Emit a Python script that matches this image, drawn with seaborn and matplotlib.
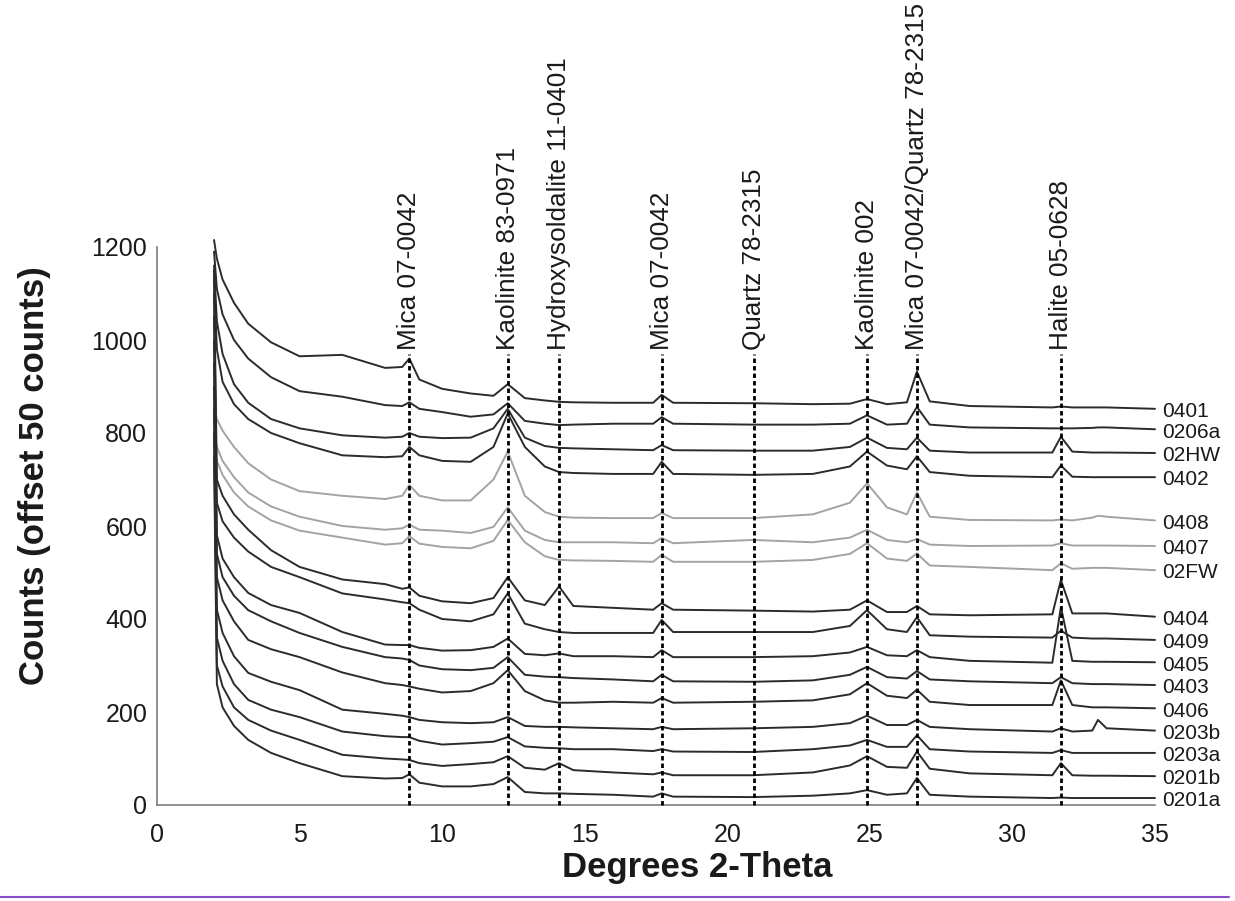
import matplotlib
matplotlib.use("Agg")
import matplotlib.pyplot as plt
import seaborn as sns
import pandas as pd
from matplotlib.lines import Line2D

# ---------------- data ----------------
THETA = [2.0, 2.1, 2.3, 2.7, 3.2, 4.0, 5.0, 6.5, 8.0, 8.6, 8.85, 9.2, 10.0, 11.0,
         11.8, 12.3, 12.9, 13.6, 14.1, 14.6, 16.0, 17.4, 17.7, 18.1, 20.9, 23.0,
         24.3, 24.9, 25.6, 26.3, 26.65, 27.1, 28.5, 31.4, 31.7, 32.1, 32.8, 33.0,
         33.3, 35.0]

s0401 = [1215, 1175, 1130, 1080, 1035, 995, 965, 968, 940, 942, 960, 915, 895, 885, 880, 905, 875, 870, 867, 866, 865, 865, 882, 865, 864, 862, 863, 873, 862, 866, 932, 868, 858, 855, 857, 855, 855, 855, 855, 852]
s0206a = [1190, 1110, 1055, 1000, 960, 920, 890, 878, 860, 858, 866, 852, 845, 835, 840, 864, 826, 820, 817, 818, 820, 820, 834, 820, 818, 818, 820, 838, 818, 820, 856, 818, 812, 810, 810, 810, 811, 812, 812, 808]
s02HW = [1160, 1040, 970, 905, 865, 830, 810, 795, 790, 792, 800, 792, 789, 790, 810, 852, 790, 772, 768, 767, 765, 763, 774, 763, 762, 762, 770, 790, 768, 765, 790, 762, 758, 758, 792, 760, 758, 758, 758, 757]
s0402 = [1130, 980, 910, 862, 830, 800, 778, 752, 748, 750, 770, 752, 740, 738, 770, 842, 770, 728, 716, 714, 712, 712, 738, 712, 710, 712, 728, 760, 730, 722, 750, 716, 708, 705, 730, 706, 705, 705, 705, 705]
s0408 = [855, 830, 805, 770, 735, 700, 675, 665, 658, 665, 688, 665, 655, 655, 700, 760, 665, 630, 620, 618, 617, 617, 628, 617, 617, 625, 650, 692, 640, 625, 672, 620, 613, 612, 614, 612, 618, 622, 620, 612]
s0407 = [800, 770, 740, 705, 672, 642, 620, 600, 592, 595, 603, 592, 590, 585, 598, 640, 590, 570, 565, 565, 565, 563, 574, 563, 570, 565, 575, 592, 570, 565, 572, 560, 557, 558, 563, 558, 558, 558, 558, 557]
s02FW = [770, 740, 710, 672, 642, 612, 590, 575, 560, 563, 578, 562, 555, 552, 568, 613, 565, 535, 527, 526, 525, 523, 538, 523, 523, 527, 540, 563, 530, 525, 541, 515, 512, 505, 520, 508, 510, 510, 510, 505]
s0404 = [1150, 700, 665, 625, 592, 548, 512, 485, 475, 465, 468, 450, 438, 434, 445, 490, 440, 430, 470, 428, 424, 420, 434, 420, 418, 416, 420, 440, 415, 415, 428, 410, 408, 410, 484, 412, 412, 412, 412, 405]
s0409 = [1100, 650, 610, 575, 545, 512, 490, 455, 442, 436, 434, 420, 400, 395, 410, 455, 390, 378, 372, 370, 370, 370, 398, 372, 372, 372, 385, 419, 378, 372, 404, 365, 362, 360, 375, 360, 358, 358, 358, 355]
s0405 = [1050, 580, 530, 490, 456, 430, 413, 372, 345, 344, 344, 338, 332, 333, 340, 358, 325, 322, 326, 320, 320, 318, 333, 318, 318, 320, 328, 340, 322, 320, 333, 318, 310, 306, 426, 310, 308, 308, 308, 307]
s0403 = [1000, 540, 490, 450, 419, 395, 370, 340, 318, 315, 312, 300, 292, 290, 295, 318, 280, 276, 275, 273, 270, 266, 280, 266, 265, 268, 280, 297, 275, 272, 288, 270, 266, 262, 275, 262, 260, 260, 260, 258]
s0406 = [950, 490, 440, 395, 355, 335, 318, 285, 262, 258, 255, 250, 242, 245, 262, 290, 245, 225, 220, 220, 222, 220, 230, 220, 222, 225, 238, 262, 235, 230, 248, 222, 215, 215, 268, 215, 210, 210, 210, 208]
s0203b = [900, 420, 370, 320, 284, 265, 247, 205, 196, 192, 189, 183, 178, 176, 178, 189, 170, 168, 168, 167, 165, 163, 168, 163, 165, 168, 176, 192, 172, 172, 183, 168, 163, 158, 165, 158, 160, 183, 165, 160]
s0203a = [850, 360, 310, 260, 226, 205, 189, 158, 148, 146, 146, 138, 130, 133, 136, 146, 126, 123, 122, 120, 120, 116, 120, 115, 114, 120, 128, 140, 125, 125, 150, 120, 115, 112, 118, 112, 112, 112, 112, 112]
s0201b = [800, 300, 255, 210, 183, 160, 140, 108, 100, 98, 97, 90, 84, 88, 92, 105, 80, 76, 90, 75, 70, 66, 70, 64, 64, 70, 85, 105, 82, 80, 115, 78, 68, 64, 90, 64, 63, 63, 63, 62]
s0201a = [750, 260, 210, 170, 140, 112, 90, 62, 57, 58, 66, 48, 40, 40, 45, 60, 28, 25, 25, 24, 22, 18, 25, 18, 17, 20, 25, 32, 22, 25, 58, 22, 18, 15, 16, 15, 15, 15, 15, 15]

SAMPLES = ["0401", "0206a", "02HW", "0402", "0408", "0407", "02FW", "0404",
           "0409", "0405", "0403", "0406", "0203b", "0203a", "0201b", "0201a"]
SERIES = [s0401, s0206a, s02HW, s0402, s0408, s0407, s02FW, s0404,
          s0409, s0405, s0403, s0406, s0203b, s0203a, s0201b, s0201a]
GREY_SAMPLES = ["0408", "0407", "02FW"]

REF_POS = [8.85, 12.3, 14.1, 17.7, 20.95, 24.9, 26.65, 31.7]
REF_LABELS = ["Mica 07-0042", "Kaolinite 83-0971", "Hydroxysoldalite 11-0401",
              "Mica 07-0042", "Quartz 78-2315", "Kaolinite 002",
              "Mica 07-0042/Quartz 78-2315", "Halite 05-0628"]

X_TICKS = [0, 5, 10, 15, 20, 25, 30, 35]
Y_TICKS = [0, 200, 400, 600, 800, 1000, 1200]

# ---------------- figure ----------------
sns.set_theme(style="white")
plt.rcParams["font.family"] = ["Liberation Sans", "DejaVu Sans"]

fig = plt.figure(figsize=(12.35, 9.01), dpi=100)
ax = fig.add_axes([157 / 1235, 96 / 901, (1155 - 157) / 1235, (805 - 247) / 901])

rows = []
for name, vals in zip(SAMPLES, SERIES):
    for t, c in zip(THETA, vals):
        rows.append({"theta": t, "counts": c, "sample": name})
df = pd.DataFrame(rows)

palette = {s: ("#a3a3a3" if s in GREY_SAMPLES else "#2b2b2b") for s in SAMPLES}
sns.lineplot(data=df, x="theta", y="counts", hue="sample", hue_order=SAMPLES,
             palette=palette, estimator=None, sort=False, legend=False,
             linewidth=1.4, ax=ax)
for ln in ax.get_lines():
    ln.set_clip_on(False)

# reference lines + labels
for pos, lab in zip(REF_POS, REF_LABELS):
    ax.plot([pos, pos], [0, 970], color="black", linewidth=2.0,
            linestyle=(0, (1.6, 1.1)), clip_on=False, zorder=5)
    ax.text(pos, 978, lab, rotation=90, ha="center", va="bottom",
            fontsize=18.8, color="#1a1a1a", clip_on=False)

# sample labels at the right end
for name, vals in zip(SAMPLES, SERIES):
    ax.text(35.25, vals[-1] - 6, name, ha="left", va="center", fontsize=15,
            color="#1a1a1a", clip_on=False)

ax.set_xlim(0, 35)
ax.set_ylim(0, 1200)
ax.set_xticks(X_TICKS)
ax.set_yticks(Y_TICKS)
ax.set_xlabel("")
ax.set_ylabel("")
ax.tick_params(axis="both", which="major", labelsize=18, colors="#7f7f7f",
               labelcolor="#1a1a1a", direction="out", width=1.2)
ax.tick_params(axis="x", length=7, pad=6)
ax.tick_params(axis="y", length=5, pad=2)
for side in ["top", "right"]:
    ax.spines[side].set_visible(False)
for side in ["left", "bottom"]:
    ax.spines[side].set_color("#7f7f7f")
    ax.spines[side].set_linewidth(1.2)

fig.text(35 / 1235, 1 - 476 / 901, "Counts (offset 50 counts)", rotation=90,
         ha="center", va="center", fontsize=25, fontweight="bold", color="#1a1a1a")
fig.text(697 / 1235, 1 - 868 / 901, "Degrees 2-Theta", ha="center", va="center",
         fontsize=25, fontweight="bold", color="#1a1a1a")

fig.add_artist(Line2D([0.0, 0.995], [1 - 897 / 901, 1 - 897 / 901],
                      transform=fig.transFigure, color="#8a4fc8", linewidth=1.5))

fig.savefig("out.png", dpi=100)
